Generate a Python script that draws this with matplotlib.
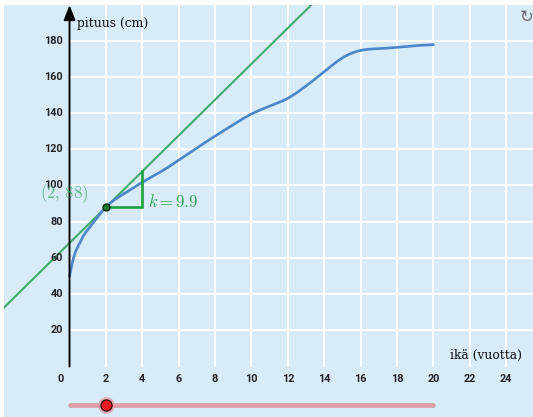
import numpy as np
import matplotlib
matplotlib.use("Agg")
import matplotlib.pyplot as plt

plt.rcParams["mathtext.fontset"] = "cm"

# Growth curve: age (years) vs height (cm)
age = [0, 0.25, 0.5, 0.75, 1, 1.5, 2, 3, 4, 5, 6, 7, 8, 9, 10, 11, 12, 13,
       14, 15, 16, 17, 18, 19, 20]
height = [50, 61, 67, 72, 75.5, 82, 88, 95.5, 101.8, 107.5, 114, 120.8,
          127.3, 133.6, 139.5, 143.8, 148.2, 155, 162.9, 170.5, 174.6,
          175.6, 176.3, 177.2, 177.8]

# Tangent point and slope
x0, y0 = 2, 88
slope = 9.9

x_ticks = [2, 4, 6, 8, 10, 12, 14, 16, 18, 20, 22, 24]
y_ticks = [20, 40, 60, 80, 100, 120, 140, 160, 180]
slider_range = [0, 20]

BG = "#d7ebf8"
BLUE = "#4a86c8"
GREEN = "#40ad6b"
DARK_GREEN = "#1f9e3e"


def natural_spline(x, y, xs):
    x = np.asarray(x, float)
    y = np.asarray(y, float)
    n = len(x)
    h = np.diff(x)
    A = np.zeros((n, n))
    b = np.zeros(n)
    A[0, 0] = A[-1, -1] = 1
    for i in range(1, n - 1):
        A[i, i - 1] = h[i - 1]
        A[i, i] = 2 * (h[i - 1] + h[i])
        A[i, i + 1] = h[i]
        b[i] = 3 * ((y[i + 1] - y[i]) / h[i] - (y[i] - y[i - 1]) / h[i - 1])
    c = np.linalg.solve(A, b)
    bb = (y[1:] - y[:-1]) / h - h * (2 * c[:-1] + c[1:]) / 3
    d = (c[1:] - c[:-1]) / (3 * h)
    idx = np.clip(np.searchsorted(x, xs) - 1, 0, n - 2)
    t = xs - x[idx]
    return y[idx] + bb[idx] * t + c[idx] * t**2 + d[idx] * t**3


fig = plt.figure(figsize=(5.33, 4.17), dpi=100)
ax = fig.add_axes([4 / 533, 0, 529 / 533, 412 / 417])
ax.set_facecolor(BG)
xmin, xmax = -3.6, 25.47
ymin, ymax = -27.9, 199.7
ax.set_xlim(xmin, xmax)
ax.set_ylim(ymin, ymax)

# grid in the first quadrant only
for gx in x_ticks:
    ax.plot([gx, gx], [0, ymax], color="white", lw=1.5, zorder=1)
for gy in y_ticks:
    ax.plot([0, xmax], [gy, gy], color="white", lw=1.5, zorder=1)

# axes with arrows
for s in ax.spines.values():
    s.set_visible(False)
ax.set_xticks([])
ax.set_yticks([])
ax.annotate("", xy=(0, ymax), xytext=(0, 0),
            arrowprops=dict(arrowstyle="-|>,head_length=0.9,head_width=0.35",
                            color="black", lw=1.4, shrinkA=0, shrinkB=0),
            zorder=5)
ax.annotate("", xy=(xmax + 0.05, 0), xytext=(0, 0),
            arrowprops=dict(arrowstyle="-|>,head_length=0.9,head_width=0.35",
                            color="black", lw=1.4, shrinkA=0, shrinkB=0),
            zorder=5)

tick_font = dict(family="Roboto", fontweight="bold", fontsize=7.8,
                 color="#222222")
for gx in x_ticks:
    ax.text(gx, -4.0, str(gx), ha="center", va="top", **tick_font)
ax.text(-0.48, -4.0, "0", ha="center", va="top", **tick_font)
for gy in y_ticks:
    ax.text(-0.37, gy, str(gy), ha="right", va="center", **tick_font)

ax.text(0.42, 189.5, "pituus (cm)", family="DejaVu Serif", fontsize=8.8,
        ha="left", va="center", color="#111111")
ax.text(24.85, 6.3, "ikä (vuotta)", family="DejaVu Serif", fontsize=8.8,
        ha="right", va="center", color="#111111")

# growth curve
xs = np.linspace(age[0], age[-1], 800)
ax.plot(xs, natural_spline(age, height, xs), color=BLUE, lw=1.9,
        solid_capstyle="round", zorder=3)

# tangent line
tx = np.array([xmin - 1, xmax + 1])
ax.plot(tx, y0 + slope * (tx - x0), color=GREEN, lw=1.5, zorder=2)

# slope triangle
ax.plot([x0, x0 + 2, x0 + 2], [y0, y0, y0 + 2 * slope], color=DARK_GREEN,
        lw=1.9, solid_joinstyle="miter", zorder=4)
ax.plot([x0], [y0], "o", ms=5, mfc="#1d7a33", mec="#0d2a12", mew=1.0,
        zorder=6)

ax.text(1.02, 95.3, rf"$({x0},\,{y0})$", ha="right", va="center",
        fontsize=12, color="#3aa860", alpha=0.75, zorder=6)
ax.text(4.3, 91.0, rf"$k = {slope}$", ha="left", va="center", fontsize=12,
        color="#2fa552", zorder=6)

# slider
sy = -21.5
ax.plot(slider_range, [sy, sy], color="#df9da7", lw=3.4,
        solid_capstyle="round", zorder=3)
ax.plot([x0], [sy], "o", ms=12, mfc="#e69aa4", mec="none", alpha=0.8,
        zorder=4)
ax.plot([x0], [sy], "o", ms=8, mfc="#e8191f", mec="#3a0b0b", mew=0.9,
        zorder=5)

# reset icon
fig.text(527 / 533, 1 - 17 / 417, "\u21bb", family="DejaVu Sans",
         fontsize=12, color="#707070", ha="center", va="center")

fig.savefig("out.png", dpi=100, facecolor="white")
